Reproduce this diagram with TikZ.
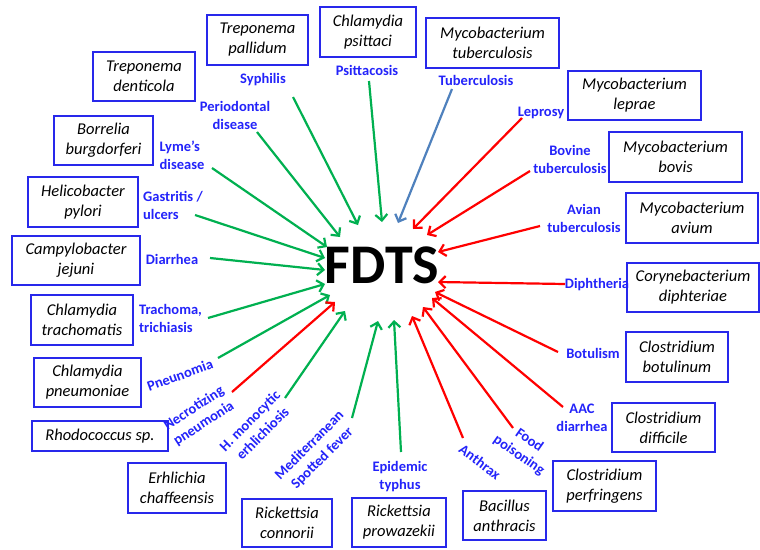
\documentclass[tikz,border=0pt]{standalone}
\usepackage{fontspec}
\setmainfont{Carlito}
\usetikzlibrary{arrows.meta}
\definecolor{bxblue}{RGB}{40,40,235}
\definecolor{lblblue}{RGB}{35,35,250}
\definecolor{agreen}{RGB}{0,176,80}
\definecolor{ared}{RGB}{255,0,0}
\definecolor{ablue}{RGB}{79,129,189}
\begin{document}
\begin{tikzpicture}[x=1pt,y=-1pt,
  box/.style={draw=bxblue, line width=1.3pt, align=center, inner sep=0pt,
    font=\fontsize{16.5}{20}\selectfont\itshape},
  lbl/.style={text=lblblue, align=center, inner sep=0pt,
    font=\fontsize{14.5}{18}\selectfont\bfseries},
  arr/.style={line width=2.2pt, -{Straight Barb[length=6pt,width=12pt]}},
  garr/.style={arr, draw=agreen},
  rarr/.style={arr, draw=ared},
  barr/.style={arr, draw=ablue}]
\useasboundingbox (0,0) rectangle (760,549);
\fill[white] (0,0) rectangle (760,549);

% center
\node[font=\fontsize{56}{60}\selectfont\bfseries, inner sep=0pt] (fdts) at (382,265) {FDTS};

% boxes
\node[box, minimum width=101pt, minimum height=50pt] (tpal) at (257.5,40) {Treponema\\pallidum};
\node[box, minimum width=96pt, minimum height=50pt] (cpsi) at (368,32) {Chlamydia\\psittaci};
\node[box, minimum width=133pt, minimum height=50pt] (mtub) at (492.5,43) {Mycobacterium\\tuberculosis};
\node[box, minimum width=102pt, minimum height=49pt] (tden) at (144,76.5) {Treponema\\denticola};
\node[box, minimum width=133pt, minimum height=49pt] (mlep) at (634.5,95.5) {Mycobacterium\\leprae};
\node[box, minimum width=99pt, minimum height=49pt] (bbur) at (103.5,140.5) {Borrelia\\burgdorferi};
\node[box, minimum width=133pt, minimum height=50pt] (mbov) at (675.5,157) {Mycobacterium\\bovis};
\node[box, minimum width=110pt, minimum height=50pt] (hpyl) at (83,202) {Helicobacter\\pylori};
\node[box, minimum width=128pt, minimum height=49pt] (cjej) at (76,260.5) {Campylobacter\\jejuni};
\node[box, minimum width=102pt, minimum height=50pt] (ctra) at (82,320) {Chlamydia\\trachomatis};
\node[box, minimum width=132pt, minimum height=50pt] (mavi) at (692,218) {Mycobacterium\\avium};
\node[box, minimum width=132pt, minimum height=49pt] (cdip) at (693,287.5) {Corynebacterium\\diphteriae};
\node[box, minimum width=102pt, minimum height=50pt] (cbot) at (677,357) {Clostridium\\botulinum};
\node[box, minimum width=107pt, minimum height=49pt] (cpne) at (87.5,382.5) {Chlamydia\\pneumoniae};
\node[box, minimum width=136pt, minimum height=30pt] (rhod) at (100,436) {Rhodococcus sp.};
\node[box, minimum width=98pt, minimum height=50pt] (echa) at (177,488) {Erhlichia\\chaffeensis};
\node[box, minimum width=90pt, minimum height=48pt] (rcon) at (287,523) {Rickettsia\\connorii};
\node[box, minimum width=94pt, minimum height=49pt] (rpro) at (399,522.5) {Rickettsia\\prowazekii};
\node[box, minimum width=83pt, minimum height=49pt] (bant) at (504.5,515.5) {Bacillus\\anthracis};
\node[box, minimum width=103pt, minimum height=50pt] (cper) at (604.5,486) {Clostridium\\perfringens};
\node[box, minimum width=103pt, minimum height=49pt] (cdif) at (663.5,427.5) {Clostridium\\difficile};

% disease labels
\node[lbl] (l1) at (263,80) {Syphilis};
\node[lbl] (l2) at (367,70) {Psittacosis};
\node[lbl] (l3) at (476,80) {Tuberculosis};
\node[lbl] (l4) at (235,115) {Periodontal\\disease};
\node[lbl] (l5) at (541,113) {Leprosy};
\node[lbl, align=left] (l6) at (182,155) {Lyme’s\\disease};
\node[lbl] (l7) at (570,159) {Bovine\\tuberculosis};
\node[lbl, align=left, anchor=west] (l8) at (143,205) {Gastritis /\\ulcers};
\node[lbl, align=left] (l9) at (172,259) {Diarrhea};
\node[lbl, align=left, anchor=west] (l10) at (139,318) {Trachoma,\\trichiasis};
\node[lbl] (l11) at (584,218) {Avian\\tuberculosis};
\node[lbl] (l12) at (597,285) {Diphtheria};
\node[lbl] (l13) at (593,353) {Botulism};
\node[lbl, rotate=20] (l14) at (180,375) {Pneunomia};
\node[lbl, rotate=33] (l15) at (199,416) {Necrotizing\\pneumonia};
\node[lbl, rotate=45] (l16) at (256,427) {H. monocytic\\erhlichiosis};
\node[lbl, rotate=45] (l17) at (316,452) {Mediterranean\\Spotted fever};
\node[lbl] (l18) at (400,477) {Epidemic\\typhus};
\node[lbl, rotate=-37] (l19) at (480,462) {Anthrax};
\node[lbl, rotate=-35] (l20) at (524,448) {Food\\poisoning};
\node[lbl] (l21) at (582,418) {AAC\\diarrhea};

% arrow endpoints
\coordinate (s1) at (293,97);   \coordinate (t1) at (358,225);
\coordinate (s2) at (369,81);   \coordinate (t2) at (382,222);
\coordinate (s3) at (452,89);   \coordinate (t3) at (398,223);
\coordinate (s4) at (257,132);  \coordinate (t4) at (340,237);
\coordinate (s5) at (522,118);  \coordinate (t5) at (413,229);
\coordinate (s6) at (212,168);  \coordinate (t6) at (327,247);
\coordinate (s7) at (530,171);  \coordinate (t7) at (427,235);
\coordinate (s8) at (195,215);  \coordinate (t8) at (325,258);
\coordinate (s9) at (540,226);  \coordinate (t9) at (438,252);
\coordinate (s10) at (210,258); \coordinate (t10) at (325,270);
\coordinate (s11) at (565,284); \coordinate (t11) at (438,282);
\coordinate (s12) at (208,318); \coordinate (t12) at (325,284);
\coordinate (s13) at (558,352); \coordinate (t13) at (435,292);
\coordinate (s14) at (218,358); \coordinate (t14) at (330,295);
\coordinate (s15) at (563,407); \coordinate (t15) at (432,298);
\coordinate (s16) at (232,392); \coordinate (t16) at (335,302);
\coordinate (s17) at (513,428); \coordinate (t17) at (423,307);
\coordinate (s18) at (285,398); \coordinate (t18) at (345,311);
\coordinate (s19) at (463,438); \coordinate (t19) at (412,316);
\coordinate (s20) at (352,418); \coordinate (t20) at (378,321);
\coordinate (s21) at (401,452); \coordinate (t21) at (394,320);

\draw[garr] (s1) -- (t1);
\draw[garr] (s2) -- (t2);
\draw[barr] (s3) -- (t3);
\draw[garr] (s4) -- (t4);
\draw[rarr] (s5) -- (t5);
\draw[garr] (s6) -- (t6);
\draw[rarr] (s7) -- (t7);
\draw[garr] (s8) -- (t8);
\draw[rarr] (s9) -- (t9);
\draw[garr] (s10) -- (t10);
\draw[rarr] (s11) -- (t11);
\draw[garr] (s12) -- (t12);
\draw[rarr] (s13) -- (t13);
\draw[garr] (s14) -- (t14);
\draw[rarr] (s15) -- (t15);
\draw[rarr] (s16) -- (t16);
\draw[rarr] (s17) -- (t17);
\draw[garr] (s18) -- (t18);
\draw[rarr] (s19) -- (t19);
\draw[garr] (s20) -- (t20);
\draw[garr] (s21) -- (t21);
\end{tikzpicture}
\end{document}
